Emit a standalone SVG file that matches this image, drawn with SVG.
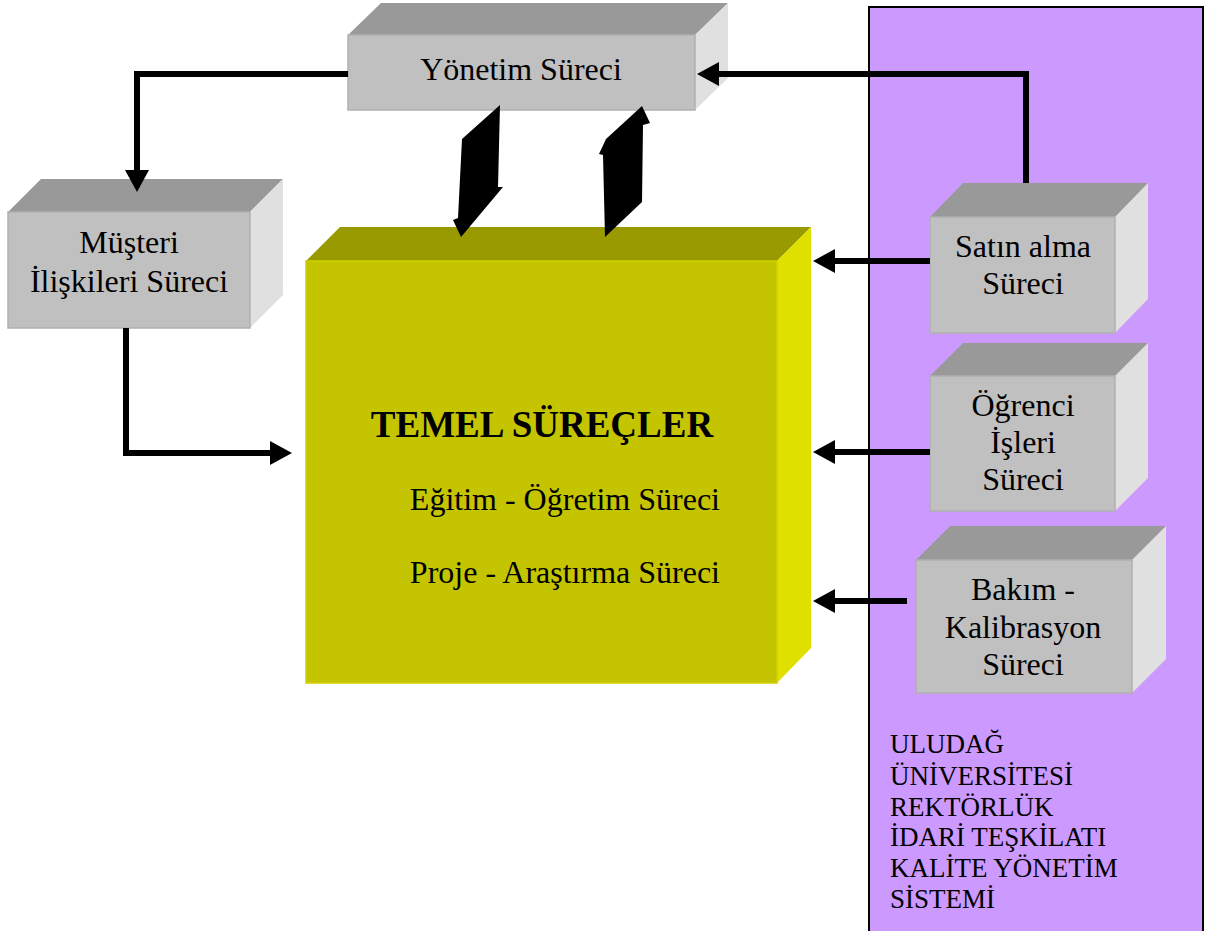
<svg xmlns="http://www.w3.org/2000/svg" width="1205" height="931" viewBox="0 0 1205 931">
<style>
.t{font-family:"Liberation Serif","Times New Roman",serif;font-size:32px;fill:#000;text-anchor:middle}
.tl{font-family:"Liberation Serif","Times New Roman",serif;font-size:27px;fill:#000}
.gtop{fill:#999999}
.gfront{fill:#C0C0C0;stroke:#B0B0B0;stroke-width:1.5}
.gside{fill:#E0E0E0}
.conn{fill:none;stroke:#000;stroke-width:6}
</style>
<defs>
<marker id="ah" markerUnits="userSpaceOnUse" markerWidth="22" markerHeight="24" refX="1" refY="12" orient="auto">
<path d="M0,0 L22,12 L0,24 Z" fill="#000"/>
</marker>
</defs>
<rect x="869" y="7" width="334" height="940" fill="#CC99FF" stroke="#000" stroke-width="2"/>
<g id="yonetim">
<polygon class="gtop" points="348,35 381,3 728,3 695,35"/>
<polygon class="gside" points="695,35 728,3 728,78 695,110"/>
<rect class="gfront" x="348" y="35" width="347" height="75"/>
<text class="t" x="521" y="80">Yönetim Süreci</text>
</g>
<g id="musteri">
<polygon class="gtop" points="8,212 41,179 283,179 250,212"/>
<polygon class="gside" points="250,212 283,179 283,295 250,328"/>
<rect class="gfront" x="8" y="212" width="242" height="116"/>
<text class="t" x="129" y="253">Müşteri</text>
<text class="t" x="129" y="292">İlişkileri Süreci</text>
</g>
<g id="temel">
<polygon fill="#999900" points="306,261 340,227 811,227 777,261"/>
<polygon fill="#E0E000" points="777,261 811,227 811,648 777,683"/>
<rect x="306" y="261" width="471" height="422" fill="#C4C400" stroke="#D0D000" stroke-width="1.5"/>
<text x="542" y="437" font-family="Liberation Serif, serif" font-size="37" font-weight="bold" text-anchor="middle">TEMEL SÜREÇLER</text>
<text x="720" y="510" font-family="Liberation Serif, serif" font-size="32" text-anchor="end">Eğitim - Öğretim Süreci</text>
<text x="720" y="583" font-family="Liberation Serif, serif" font-size="32" text-anchor="end">Proje - Araştırma Süreci</text>
</g>
<g id="satinalma">
<polygon class="gtop" points="930,217 963,183 1148,183 1115,217"/>
<polygon class="gside" points="1115,217 1148,183 1148,299 1115,333"/>
<rect class="gfront" x="930" y="217" width="185" height="116"/>
<text class="t" x="1023" y="257">Satın alma</text>
<text class="t" x="1023" y="294">Süreci</text>
</g>
<g id="ogrenci">
<polygon class="gtop" points="930,376 963,343 1148,343 1115,376"/>
<polygon class="gside" points="1115,376 1148,343 1148,478 1115,511"/>
<rect class="gfront" x="930" y="376" width="185" height="135"/>
<text class="t" x="1023" y="416">Öğrenci</text>
<text class="t" x="1023" y="453">İşleri</text>
<text class="t" x="1023" y="490">Süreci</text>
</g>
<g id="bakim">
<polygon class="gtop" points="916,560 950,526 1166,526 1132,560"/>
<polygon class="gside" points="1132,560 1166,526 1166,659 1132,693"/>
<rect class="gfront" x="916" y="560" width="216" height="133"/>
<text class="t" x="1023" y="600">Bakım -</text>
<text class="t" x="1023" y="638">Kalibrasyon</text>
<text class="t" x="1023" y="675">Süreci</text>
</g>
<g id="kys">
<text class="tl" x="890" y="753">ULUDAĞ</text>
<text class="tl" x="890" y="785">ÜNİVERSİTESİ</text>
<text class="tl" x="890" y="816">REKTÖRLÜK</text>
<text class="tl" x="890" y="846">İDARİ TEŞKİLATI</text>
<text class="tl" x="890" y="877">KALİTE YÖNETİM</text>
<text class="tl" x="890" y="908">SİSTEMİ</text>
</g>
<g id="connectors">
<path class="conn" d="M348,74 H137 V171" marker-end="url(#ah)"/>
<path class="conn" d="M126,328 V453 H271" marker-end="url(#ah)"/>
<path class="conn" d="M1026,183 V74 H718" marker-end="url(#ah)"/>
<path class="conn" d="M930,261 H834" marker-end="url(#ah)"/>
<path class="conn" d="M930,452 H834" marker-end="url(#ah)"/>
<path class="conn" d="M907,601 H834" marker-end="url(#ah)"/>
<polygon fill="#000" points="500,105 498,187 503,187 461,237 453,220 458,218 462,139"/>
<polygon fill="#000" points="642,106 650,123 643,125 642,202 605,237 603,155 599,154 606,139"/>
</g>
</svg>
